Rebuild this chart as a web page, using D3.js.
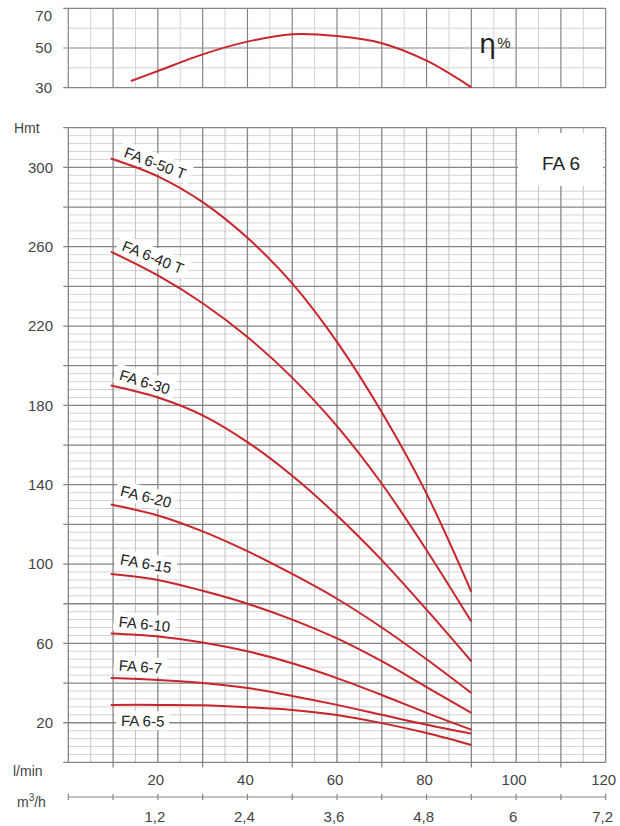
<!DOCTYPE html>
<html><head><meta charset="utf-8">
<script src="https://cdn.jsdelivr.net/npm/d3@7"></script>
<style>
body{margin:0;background:#fff}
svg{display:block;font-family:"Liberation Sans",Arial,sans-serif}
</style>
</head><body><svg id="c" width="620" height="826"></svg>
<script>
// ---------- data ----------
const flow = [9.5, 20, 30, 40, 50, 60, 70, 80, 90];           // l/min
const pumpNames = ["FA 6-50 T","FA 6-40 T","FA 6-30","FA 6-20","FA 6-15","FA 6-10","FA 6-7","FA 6-5"];
const head50T = [304.5, 295.5, 282.5, 264.5, 241.5, 212, 176.5, 135.5, 86];
const head40T = [257.5, 245.5, 231.5, 214.5, 194, 169.5, 140.5, 107, 71];
const head30  = [190, 184, 175, 161.5, 144.5, 124.5, 102, 77, 51];
const head20  = [130, 124.5, 116.5, 106.5, 95, 82.5, 68, 52, 35];
const head15  = [95, 92, 86.5, 80, 72, 62.5, 51, 38, 25];
const head10  = [65, 63.5, 60.5, 56, 50, 42.5, 34, 25, 16.5];
const head7   = [42.5, 41.5, 40, 37.5, 33.5, 29, 24, 19, 14.5];
const head5   = [29, 29, 28.8, 27.8, 26.4, 23.9, 19.8, 14.8, 8.8];
const heads = [head50T, head40T, head30, head20, head15, head10, head7, head5];

const effFlow   = [14, 20, 30, 40, 50, 60, 70, 80, 90];
const effValues = [33.4, 38.4, 46.8, 53.2, 56.9, 56.0, 52.4, 43.6, 30.2];

const headTicks  = [20, 60, 100, 140, 180, 220, 260, 300];
const effTicks   = [30, 50, 70];
const flowTicks  = [20, 40, 60, 80, 100, 120];
const m3hTicks   = [1.2, 2.4, 3.6, 4.8, 6, 7.2];
const m3hLabels  = ["1,2", "2,4", "3,6", "4,8", "6", "7,2"];

// ---------- layout ----------
const svg = d3.select("#c");
const x  = d3.scaleLinear([0, 120], [68.3, 605.7]);
const xm = d3.scaleLinear([0, 7.2], [68.3, 605.7]);
const y  = d3.scaleLinear([0, 320], [762.4, 127.7]);
const ye = d3.scaleLinear([30, 70], [87.7, 8.3]);
const RED = "#c8262c", DARK = "#858585", LIGHT = "#d4d4d4", TXT = "#444";

// label layout (flow, head, angle)
const labelLayout = [
  [19.4, 302.2, 21], [18.9, 254.8, 22], [17.1, 191.8, 17], [17.35, 134, 14],
  [17.35, 100.3, 10], [17.0, 69.8, 6], [16.1, 48.3, 4], [16.6, 20.9, 1]
];

// ---------- efficiency panel ----------
const gE = svg.append("g");
gE.selectAll(".vl").data(d3.range(5, 120, 10)).join("line")
  .attr("x1", d => x(d)).attr("x2", d => x(d)).attr("y1", ye(70)).attr("y2", ye(30))
  .attr("stroke", LIGHT).attr("stroke-width", 1);
gE.selectAll(".hl").data([40, 60]).join("line")
  .attr("x1", x(0)).attr("x2", x(120)).attr("y1", d => ye(d)).attr("y2", d => ye(d))
  .attr("stroke", LIGHT).attr("stroke-width", 1);
gE.selectAll(".vd").data(d3.range(0, 121, 10)).join("line")
  .attr("x1", d => x(d)).attr("x2", d => x(d)).attr("y1", ye(70)).attr("y2", ye(30))
  .attr("stroke", DARK).attr("stroke-width", 1.2);
gE.selectAll(".hd").data(effTicks).join("line")
  .attr("x1", x(0) - 5).attr("x2", x(120)).attr("y1", d => ye(d)).attr("y2", d => ye(d))
  .attr("stroke", DARK).attr("stroke-width", 1.2);
gE.selectAll(".tl").data(effTicks).join("text")
  .attr("x", 52).attr("y", d => d === 70 ? ye(d) + 7 : ye(d))
  .attr("dy", "0.35em").attr("text-anchor", "end")
  .attr("font-size", 15).attr("fill", TXT).text(d => d);
gE.append("path").datum(effFlow.map((f, i) => [f, effValues[i]]))
  .attr("d", d3.line().x(d => x(d[0])).y(d => ye(d[1])).curve(d3.curveCatmullRom.alpha(0.5)))
  .attr("fill", "none").attr("stroke", RED).attr("stroke-width", 2);
const eta = gE.append("text").attr("x", 479).attr("y", 53).attr("fill", "#222");
eta.append("tspan").attr("font-size", 27).attr("font-family", "DejaVu Sans").text("η");
eta.append("tspan").attr("font-size", 15).attr("dy", -5).attr("dx", 1).text("%");

// ---------- main panel grid ----------
const g = svg.append("g");
g.selectAll(".mh").data(d3.range(0, 321, 4).filter(d => d % 20 !== 0)).join("line")
  .attr("x1", x(0)).attr("x2", x(120)).attr("y1", d => y(d)).attr("y2", d => y(d))
  .attr("stroke", LIGHT).attr("stroke-width", 1);
g.selectAll(".mv").data(d3.range(5, 120, 10)).join("line")
  .attr("x1", d => x(d)).attr("x2", d => x(d)).attr("y1", y(320)).attr("y2", y(0))
  .attr("stroke", "#c4c4c4").attr("stroke-width", 1);
g.selectAll(".Mh").data(d3.range(0, 321, 20)).join("line")
  .attr("x1", x(0) - 5).attr("x2", x(120)).attr("y1", d => y(d)).attr("y2", d => y(d))
  .attr("stroke", DARK).attr("stroke-width", 1.3);
g.selectAll(".Mv").data(d3.range(0, 121, 10)).join("line")
  .attr("x1", d => x(d)).attr("x2", d => x(d)).attr("y1", y(320)).attr("y2", y(0))
  .attr("stroke", DARK).attr("stroke-width", 1.3);
// small ticks below the bottom border
g.selectAll(".bt").data(d3.range(10, 120, 20)).join("line")
  .attr("x1", d => x(d)).attr("x2", d => x(d)).attr("y1", y(0)).attr("y2", y(0) + 5)
  .attr("stroke", DARK).attr("stroke-width", 1.3);

// y labels
g.selectAll(".yl").data(headTicks).join("text")
  .attr("x", 53).attr("y", d => y(d)).attr("dy", "0.35em").attr("text-anchor", "end")
  .attr("font-size", 15).attr("fill", TXT).text(d => d);
g.append("text").attr("x", 14).attr("y", y(320)).attr("dy", "0.35em")
  .attr("font-size", 14).attr("fill", TXT).text("Hmt");

// FA 6 box
g.append("rect").attr("x", 518).attr("y", 133).attr("width", 85).attr("height", 53).attr("fill", "#fff");
g.append("text").attr("x", 561).attr("y", 163).attr("dy", "0.35em").attr("text-anchor", "middle")
  .attr("font-size", 19).attr("fill", "#222").text("FA 6");

// label backgrounds + labels
const labG = svg.append("g");
const labels = labG.selectAll("g").data(pumpNames).join("g")
  .attr("transform", (d, i) => `translate(${x(labelLayout[i][0])},${y(labelLayout[i][1])}) rotate(${labelLayout[i][2]})`);
const bg = labels.append("rect").attr("fill", "#fff");
const lt = labels.append("text").attr("text-anchor", "middle").attr("dy", "0.36em")
  .attr("font-size", 15).attr("fill", "#222").text(d => d);
lt.each(function(d, i) {
  const w = this.getComputedTextLength();
  d3.select(bg.nodes()[i]).attr("x", -w / 2 - 5).attr("y", -10).attr("width", w + 10).attr("height", 19);
});

// curves
const line = d3.line().x(d => x(d[0])).y(d => y(d[1])).curve(d3.curveCatmullRom.alpha(0.5));
svg.append("g").selectAll("path").data(heads).join("path")
  .attr("d", h => line(flow.map((f, i) => [f, h[i]])))
  .attr("fill", "none").attr("stroke", RED).attr("stroke-width", 2);
svg.node().appendChild(labG.node());

// ---------- x axes ----------
const ax = svg.append("g");
ax.selectAll(".xl").data(flowTicks).join("text")
  .attr("x", d => x(d) - 2).attr("y", 780).attr("dy", "0.35em").attr("text-anchor", "middle")
  .attr("font-size", 15).attr("fill", TXT).text(d => d);
ax.append("text").attr("x", 13).attr("y", 771).attr("dy", "0.35em")
  .attr("font-size", 14).attr("fill", TXT).text("l/min");
ax.append("line").attr("x1", xm(0)).attr("x2", xm(7.2)).attr("y1", 797).attr("y2", 797)
  .attr("stroke", DARK).attr("stroke-width", 1.2);
ax.selectAll(".mt").data(d3.range(0, 13).map(k => k * 0.6)).join("line")
  .attr("x1", d => xm(d)).attr("x2", d => xm(d)).attr("y1", 794).attr("y2", 800)
  .attr("stroke", DARK).attr("stroke-width", 1.2);
ax.selectAll(".ml").data(m3hTicks).join("text")
  .attr("x", (d, i) => xm(d) - 3).attr("y", 817).attr("dy", "0.35em").attr("text-anchor", "middle")
  .attr("font-size", 15).attr("fill", TXT).text((d, i) => m3hLabels[i]);
const m3 = ax.append("text").attr("x", 17).attr("y", 807).attr("font-size", 14).attr("fill", TXT);
m3.append("tspan").text("m");
m3.append("tspan").attr("font-size", 10).attr("dy", -6).text("3");
m3.append("tspan").attr("dy", 6).text("/h");
</script>
</body></html>
